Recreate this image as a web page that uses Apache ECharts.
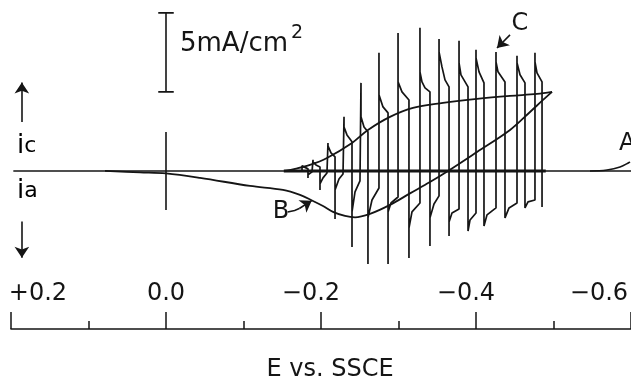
<!DOCTYPE html>
<html>
<head>
<meta charset="utf-8">
<script src="https://cdn.jsdelivr.net/npm/echarts@6/dist/echarts.min.js"></script>
<style>
  html, body { margin: 0; padding: 0; background: #fff; }
  #chart { width: 631px; height: 382px; }
</style>
</head>
<body>
<div id="chart"></div>
<script>
// E in V vs SSCE, current density in mA/cm2 (cathodic up)
const FONT = 'DejaVu Sans';
const INK = '#151515';

const tickValues = [0.2, 0, -0.2, -0.4, -0.6];
const tickText = ['{p|+}{d|0.2}', '{d|0.0}', '{m|−}{dr|0.2}', '{m|−}{dr|0.4}', '{m|−}{de|0.6}'];

// zero current line
const baseline = [[0.197, 0], [-0.6, 0]];
const pulseBaseline = [[-0.152, 0], [-0.49, 0]];

// slow sweep, curve B (going negative) and return branch
const cvForward = [
  [0.0787, 0], [0.0335, -0.09], [0, -0.16], [-0.0439, -0.44], [-0.1084, -0.95],
  [-0.151, -1.2], [-0.1729, -1.52], [-0.1897, -1.9], [-0.2026, -2.22], [-0.2155, -2.59],
  [-0.231, -2.85], [-0.2439, -2.94], [-0.2632, -2.72], [-0.289, -2.15], [-0.3148, -1.42],
  [-0.3406, -0.7], [-0.3639, 0], [-0.4013, 1.2], [-0.4439, 2.59], [-0.4697, 3.73],
  [-0.4865, 4.49], [-0.4981, 5.0]
];
const cvReverse = [
  [-0.4981, 5.0], [-0.4787, 4.87], [-0.4439, 4.75], [-0.4013, 4.56], [-0.3574, 4.3],
  [-0.3187, 3.99], [-0.289, 3.42], [-0.2606, 2.59], [-0.24, 1.77], [-0.2077, 0.82],
  [-0.1858, 0.38], [-0.1665, 0.13], [-0.1535, 0]
];

// rise A at the negative end
const riseA = [[-0.5471, 0], [-0.569, 0.06], [-0.5858, 0.25], [-0.5987, 0.57]];

// pulse transients C
const pulseTrace = [
  [-0.168, 0], [-0.1755, 0], [-0.1755, 0.32], [-0.1768, 0.25], [-0.1832, 0.13], [-0.1832, -0.44], [-0.1832, -0.25], [-0.1884, -0.06],
  [-0.1897, -0.06], [-0.1897, 0.7], [-0.1897, 0.57], [-0.1935, 0.38], [-0.1987, 0.25], [-0.1987, -1.2], [-0.1987, -0.82], [-0.2026, -0.44], [-0.2077, -0.13],
  [-0.209, -0.13], [-0.209, 1.77], [-0.209, 1.58], [-0.2129, 1.14], [-0.2181, 0.89], [-0.2181, -3.04], [-0.2181, -1.2], [-0.2232, -0.51], [-0.2284, -0.19],
  [-0.2297, -0.19], [-0.2297, 3.42], [-0.2297, 2.78], [-0.2335, 2.28], [-0.24, 1.84], [-0.24, -4.81], [-0.24, -2.59], [-0.2439, -1.33], [-0.2503, -0.63],
  [-0.2516, -0.63], [-0.2516, 5.57], [-0.2516, 3.42], [-0.2555, 2.78], [-0.2606, 2.47], [-0.2606, -5.89], [-0.2606, -2.97], [-0.2658, -1.84], [-0.2748, -1.08],
  [-0.2748, 7.47], [-0.2748, 4.81], [-0.28, 4.05], [-0.2865, 3.67], [-0.2865, -5.89], [-0.2865, -2.59], [-0.2903, -2.03], [-0.2994, -1.65],
  [-0.2994, 8.73], [-0.2994, 5.63], [-0.3045, 5.0], [-0.3135, 4.49], [-0.3135, -5.51], [-0.3135, -3.61], [-0.3174, -2.59], [-0.3277, -2.03],
  [-0.3277, 9.05], [-0.3277, 6.27], [-0.3303, 5.63], [-0.3342, 5.25], [-0.3406, 5.0], [-0.3406, -4.75], [-0.3406, -2.97], [-0.3458, -2.09], [-0.3523, -1.58],
  [-0.3523, 8.35], [-0.3523, 7.53], [-0.3561, 6.58], [-0.36, 5.76], [-0.3652, 5.32], [-0.3652, -4.11], [-0.3652, -3.23], [-0.369, -2.66], [-0.3781, -2.41],
  [-0.3781, 8.23], [-0.3781, 6.84], [-0.3806, 6.08], [-0.3897, 5.32], [-0.3897, -3.8], [-0.3923, -3.1], [-0.4, -2.66],
  [-0.4, 7.66], [-0.4, 7.15], [-0.4039, 6.27], [-0.4103, 5.57], [-0.4103, -3.48], [-0.4142, -2.78], [-0.4258, -2.34],
  [-0.4258, 7.53], [-0.4258, 6.9], [-0.4284, 6.27], [-0.4374, 5.63], [-0.4374, -2.97], [-0.4426, -2.34], [-0.4529, -2.03],
  [-0.4529, 7.28], [-0.4529, 6.84], [-0.4568, 6.08], [-0.4632, 5.57], [-0.4632, -2.34], [-0.4671, -1.96], [-0.4761, -1.84],
  [-0.4761, 7.47], [-0.4761, 6.9], [-0.4787, 6.2], [-0.4852, 5.63], [-0.4852, -2.28]
];

// marks drawn on the plot
const zeroMark = [[0, 2.47], [0, -2.47]];
const scaleBar = [[0, 10], [0, 5]];
const scaleTop = [[0.01, 10], [-0.01, 10]];
const scaleBottom = [[0.01, 5], [-0.01, 5]];
const bArrowTail = [[-0.157, -2.6], [-0.166, -2.5], [-0.172, -2.38]];
const icArrow = [[0.186, 3.1], [0.186, 5.6]];
const iaArrow = [[0.186, -3.2], [0.186, -5.5]];
const bArrowHead = [[-0.172, -2.38], [-0.188, -1.88]];
const cArrow = [[-0.4439, 8.61], [-0.4271, 7.78]];

const chart = echarts.init(document.getElementById('chart'));

const txt = { fontFamily: FONT, fontSize: 24, color: INK };
const line = (data, width, smooth) => ({
  type: 'line', data: data, showSymbol: false, smooth: smooth || false,
  lineStyle: { color: INK, width: width }, silent: true, z: 3
});
const label = (x, y, text, size, align) => ({
  type: 'text', x: x, y: y,
  style: { text: text, align: align || 'left', verticalAlign: 'middle', fill: INK, font: size + 'px "DejaVu Sans"' }
});

chart.setOption({
  animation: false,
  grid: { left: 11, right: 0, top: 1, bottom: 53, containLabel: false, outerBoundsMode: 'none' },
  xAxis: {
    type: 'value', min: -0.6, max: 0.2, interval: 0.2, inverse: true,
    name: 'E vs. SSCE', nameLocation: 'middle', nameGap: 29,
    nameTextStyle: Object.assign({}, txt, { padding: [0, 0, 0, 18] }),
    axisLine: { onZero: false, lineStyle: { color: INK, width: 1.6 } },
    axisTick: { inside: true, length: 17, lineStyle: { color: INK, width: 1.5 } },
    minorTick: { show: true, splitNumber: 2, length: 8, lineStyle: { color: INK, width: 1.5 } },
    splitLine: { show: false },
    axisLabel: {
      inside: true, margin: 23, showMinLabel: true, showMaxLabel: true,
      formatter: function (v) {
        for (let k = 0; k < tickValues.length; k++) {
          if (Math.abs(v - tickValues[k]) < 1e-6) return tickText[k];
        }
        return '';
      },
      rich: {
        p: Object.assign({}, txt, { padding: [0, 0, 0, 54] }),
        d: txt,
        m: txt,
        dr: Object.assign({}, txt, { padding: [0, 20, 0, 0] }),
        de: Object.assign({}, txt, { padding: [0, 64, 0, 0] })
      }
    }
  },
  yAxis: { type: 'value', min: -10, max: 10.75, show: false, splitLine: { show: false } },
  graphic: [
    label(180, 44, '5mA/cm', 26),
    label(291, 33, '2', 19),
    label(520, 24, 'C', 24, 'center'),
    label(281, 212, 'B', 24, 'center'),
    label(619, 144, 'A', 24),
    { type: 'text', x: 17, y: 146, style: { text: '{i|i}{c|c}', verticalAlign: 'middle',
      rich: { i: Object.assign({}, txt, { fontSize: 26 }), c: Object.assign({}, txt, { fontSize: 22 }) } } },
    { type: 'text', x: 17, y: 191, style: { text: '{i|i}{c|a}', verticalAlign: 'middle',
      rich: { i: Object.assign({}, txt, { fontSize: 26 }), c: Object.assign({}, txt, { fontSize: 22 }) } } }
  ],
  series: [
    line(baseline, 1.6),
    line(pulseBaseline, 3),
    line(cvForward, 1.8, 0.35),
    line(cvReverse, 1.8, 0.35),
    line(riseA, 1.6, 0.4),
    line(pulseTrace, 1.7),
    {
      type: 'lines', coordinateSystem: 'cartesian2d', polyline: true, silent: true,
      lineStyle: { color: INK, width: 1.6, opacity: 1 },
      data: [{ coords: zeroMark }, { coords: scaleBar }, { coords: scaleTop }, { coords: scaleBottom }, { coords: bArrowTail }]
    },
    {
      type: 'lines', coordinateSystem: 'cartesian2d', silent: true,
      symbol: ['none', 'arrow'], symbolSize: [6, 11],
      lineStyle: { color: INK, width: 1.6, opacity: 1 },
      data: [{ coords: icArrow }, { coords: iaArrow }, { coords: bArrowHead }, { coords: cArrow }]
    }
  ]
});
</script>
</body>
</html>
